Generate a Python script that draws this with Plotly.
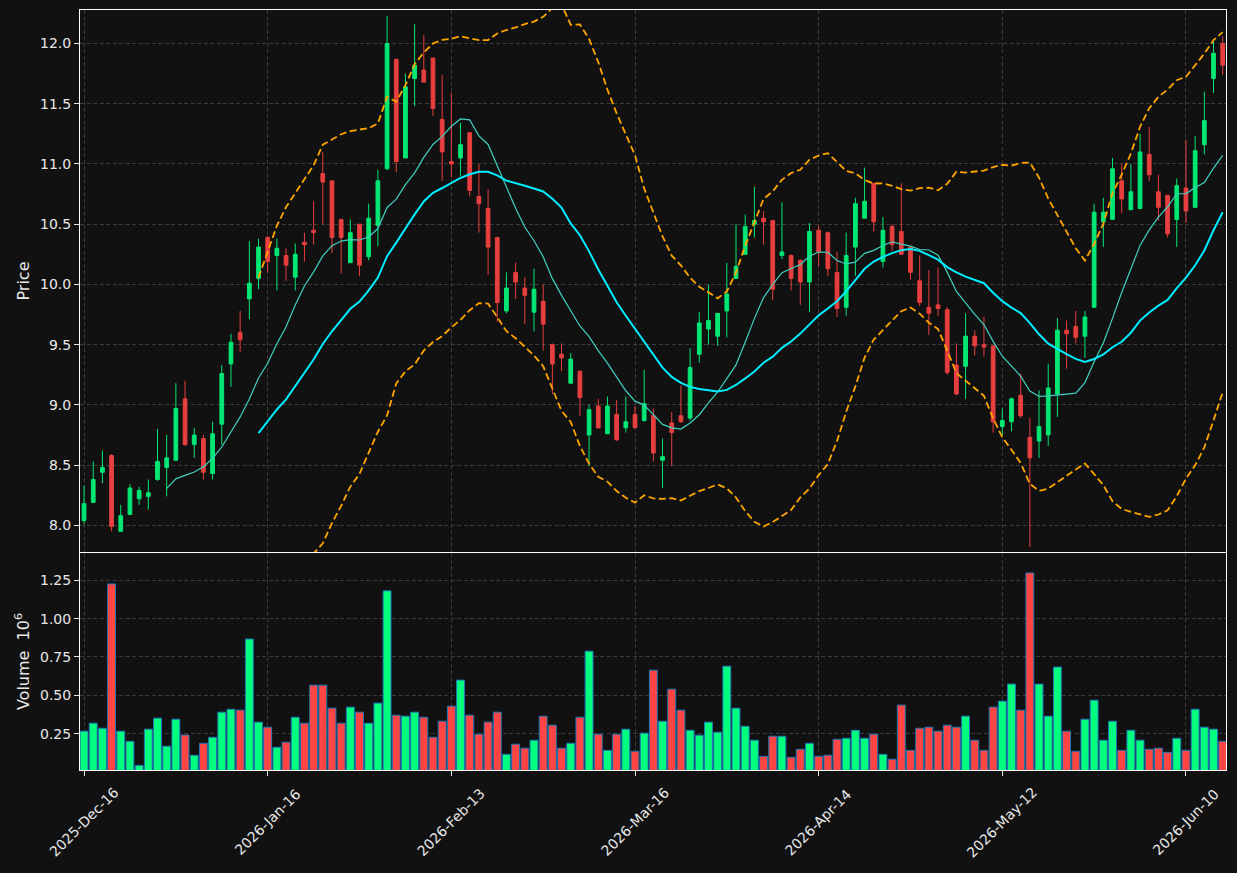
import pandas as pd
import plotly.graph_objects as go

# ---------------- data ----------------
opens = [8.04, 8.19, 8.44, 8.58, 7.95, 8.09, 8.22, 8.24, 8.38, 8.48,
         8.54, 9.05, 8.67, 8.72, 8.43, 8.84, 9.34, 9.60, 9.88, 10.05,
         10.39, 10.24, 10.24, 10.06, 10.35, 10.45, 10.92, 10.86, 10.54, 10.18,
         10.50, 10.23, 10.49, 10.96, 11.87, 11.05, 11.71, 11.78, 11.88, 11.37,
         11.02, 11.05, 11.26, 10.73, 10.63, 10.39, 9.78, 10.10, 9.97, 9.77,
         9.86, 9.50, 9.42, 9.18, 9.28, 8.75, 8.99, 8.76, 8.92, 8.81,
         8.92, 8.87, 8.91, 8.54, 8.85, 8.91, 8.89, 9.42, 9.63, 9.57,
         9.78, 10.05, 10.25, 10.50, 10.55, 10.53, 10.24, 10.24, 10.20, 10.02,
         10.45, 10.43, 10.10, 9.81, 10.31, 10.55, 10.84, 10.19, 10.48, 10.44,
         10.31, 10.03, 9.81, 9.83, 9.79, 9.33, 9.32, 9.57, 9.50, 9.49,
         8.82, 8.86, 9.08, 8.73, 8.70, 8.75, 9.09, 9.62, 9.65, 9.57,
         9.81, 10.52, 10.54, 10.86, 10.62, 10.63, 11.08, 10.77, 10.74, 10.54,
         10.80, 10.64, 11.16, 11.71, 12.00]
highs = [8.33, 8.53, 8.62, 8.59, 8.17, 8.34, 8.32, 8.38, 8.80, 8.75,
         9.18, 9.20, 8.81, 8.75, 8.86, 9.33, 9.59, 9.78, 10.36, 10.38,
         10.40, 10.38, 10.30, 10.34, 10.43, 10.69, 11.10, 10.86, 10.54, 10.54,
         10.50, 10.67, 10.95, 12.23, 11.87, 11.75, 12.16, 12.07, 11.88, 11.74,
         11.59, 11.34, 11.26, 11.00, 10.79, 10.39, 10.10, 10.18, 10.06, 10.13,
         10.00, 9.51, 9.51, 9.43, 9.28, 9.00, 9.05, 9.07, 9.04, 9.07,
         8.99, 9.29, 8.97, 8.72, 8.94, 9.16, 9.47, 9.77, 10.00, 9.76,
         10.18, 10.50, 10.58, 10.81, 10.61, 10.53, 10.68, 10.25, 10.21, 10.51,
         10.49, 10.44, 10.27, 10.43, 10.72, 10.97, 10.84, 10.56, 10.50, 10.84,
         10.31, 10.24, 10.12, 10.14, 9.81, 9.51, 9.76, 9.62, 9.73, 9.49,
         8.97, 9.06, 9.26, 8.89, 9.12, 9.34, 9.72, 9.70, 9.78, 9.78,
         10.67, 10.72, 11.05, 11.00, 11.00, 11.25, 11.31, 10.91, 10.74, 10.88,
         11.20, 11.23, 11.60, 12.03, 12.06]
lows = [8.01, 8.19, 8.35, 7.95, 7.95, 8.09, 8.17, 8.13, 8.37, 8.24,
        8.54, 8.66, 8.56, 8.38, 8.38, 8.67, 9.15, 9.44, 9.71, 9.96,
        10.10, 9.95, 10.03, 9.95, 10.19, 10.33, 10.50, 10.26, 10.09, 10.18,
        10.07, 10.20, 10.32, 10.95, 10.93, 11.05, 11.48, 11.68, 11.40, 10.86,
        10.89, 10.90, 10.73, 10.43, 10.08, 9.69, 9.76, 9.88, 9.67, 9.61,
        9.45, 9.09, 9.28, 9.18, 8.91, 8.49, 8.80, 8.76, 8.70, 8.77,
        8.81, 8.86, 8.53, 8.31, 8.49, 8.85, 8.87, 9.35, 9.50, 9.49,
        9.56, 10.05, 10.25, 10.39, 10.33, 9.87, 10.21, 9.95, 9.83, 9.77,
        10.15, 10.07, 9.73, 9.74, 10.07, 10.55, 10.44, 10.14, 10.28, 10.25,
        10.04, 9.82, 9.58, 9.74, 9.25, 9.08, 9.05, 9.41, 9.40, 8.77,
        8.75, 8.78, 8.89, 7.82, 8.56, 8.66, 8.90, 9.30, 9.51, 9.39,
        9.81, 10.31, 10.54, 10.59, 10.62, 10.63, 10.86, 10.53, 10.39, 10.31,
        10.51, 10.64, 11.08, 11.59, 11.74]
closes = [8.18, 8.38, 8.48, 7.99, 8.08, 8.31, 8.29, 8.27, 8.53, 8.56,
          8.97, 8.67, 8.75, 8.44, 8.76, 9.26, 9.52, 9.54, 10.01, 10.31,
          10.19, 10.30, 10.16, 10.25, 10.33, 10.43, 10.85, 10.39, 10.39, 10.43,
          10.16, 10.55, 10.86, 12.00, 11.02, 11.64, 11.82, 11.68, 11.46, 11.10,
          11.00, 11.16, 10.78, 10.67, 10.31, 9.85, 9.97, 10.02, 9.91, 9.96,
          9.67, 9.34, 9.39, 9.38, 9.06, 8.96, 8.81, 8.99, 8.71, 8.86,
          8.81, 9.01, 8.60, 8.57, 8.77, 8.86, 9.31, 9.68, 9.70, 9.76,
          9.92, 10.15, 10.48, 10.53, 10.52, 9.96, 10.27, 10.05, 10.02, 10.44,
          10.27, 10.13, 9.80, 10.24, 10.67, 10.69, 10.52, 10.45, 10.33, 10.25,
          10.10, 9.85, 9.76, 9.80, 9.27, 9.09, 9.57, 9.49, 9.48, 8.86,
          8.87, 9.05, 8.91, 8.56, 8.82, 9.14, 9.62, 9.59, 9.56, 9.73,
          10.60, 10.60, 10.96, 10.71, 10.77, 11.10, 10.91, 10.64, 10.42, 10.82,
          10.61, 11.11, 11.36, 11.92, 11.82]
volume_millions = [0.266, 0.318, 0.285, 1.226, 0.266, 0.200, 0.043, 0.279, 0.351, 0.168,
                   0.344, 0.241, 0.109, 0.187, 0.226, 0.390, 0.409, 0.403, 0.867, 0.325,
                   0.292, 0.161, 0.194, 0.357, 0.318, 0.566, 0.566, 0.416, 0.318, 0.423,
                   0.390, 0.318, 0.449, 1.181, 0.370, 0.364, 0.390, 0.357, 0.226, 0.331,
                   0.429, 0.599, 0.370, 0.246, 0.325, 0.390, 0.115, 0.181, 0.155, 0.207,
                   0.364, 0.305, 0.155, 0.187, 0.357, 0.788, 0.246, 0.141, 0.246, 0.279,
                   0.135, 0.253, 0.664, 0.331, 0.540, 0.403, 0.272, 0.240, 0.325, 0.259,
                   0.690, 0.416, 0.298, 0.207, 0.102, 0.233, 0.233, 0.096, 0.148, 0.187,
                   0.102, 0.109, 0.213, 0.220, 0.272, 0.220, 0.246, 0.115, 0.083, 0.436,
                   0.141, 0.285, 0.292, 0.266, 0.305, 0.292, 0.364, 0.207, 0.141, 0.423,
                   0.462, 0.573, 0.403, 1.298, 0.573, 0.364, 0.684, 0.266, 0.135, 0.344,
                   0.468, 0.207, 0.331, 0.141, 0.272, 0.207, 0.148, 0.155, 0.128, 0.220,
                   0.141, 0.409, 0.292, 0.279, 0.200]
tick_labels = ['2025-Dec-16', '2026-Jan-16', '2026-Feb-13', '2026-Mar-16',
               '2026-Apr-14', '2026-May-12', '2026-Jun-10']
TICK_STEP = 20  # candles between labelled dates

# ---------------- derived series ----------------
n = len(closes)
idx = list(range(n))
cs = pd.Series(closes)
mav10 = cs.rolling(10).mean()
mav20 = cs.rolling(20).mean()
std20 = cs.rolling(20).std()
bb_up = mav20 + 2 * std20
bb_lo = mav20 - 2 * std20

# ---------------- style ----------------
UP = '#00ff7f'
DOWN = '#ff4444'
BG = '#111111'
FG = '#e8e8e8'
GRID = '#3a3a3a'
FONT = 'DejaVu Sans'

vol_colors = [UP if c >= o else DOWN for o, c in zip(opens, closes)]

fig = go.Figure()
fig.add_trace(go.Candlestick(
    x=idx, open=opens, high=highs, low=lows, close=closes,
    increasing=dict(line=dict(color=UP, width=1), fillcolor=UP),
    decreasing=dict(line=dict(color=DOWN, width=1), fillcolor=DOWN),
    whiskerwidth=0, opacity=0.9, xaxis='x', yaxis='y', showlegend=False))
fig.add_trace(go.Scatter(x=idx, y=mav10, mode='lines',
                         line=dict(color='#40d0c0', width=1.2),
                         xaxis='x', yaxis='y', showlegend=False))
fig.add_trace(go.Scatter(x=idx, y=mav20, mode='lines',
                         line=dict(color='#00eeff', width=2),
                         xaxis='x', yaxis='y', showlegend=False))
for band in (bb_up, bb_lo):
    fig.add_trace(go.Scatter(x=idx, y=band, mode='lines',
                             line=dict(color='#ffa500', width=1.8, dash='7px,3.5px'),
                             xaxis='x', yaxis='y', showlegend=False))
fig.add_trace(go.Bar(x=idx, y=volume_millions, width=0.86,
                     marker=dict(color=vol_colors, line=dict(color='#1f77b4', width=1)),
                     xaxis='x2', yaxis='y2', showlegend=False))

xr = [-0.44, n - 1 + 0.36]
tickvals = [k * TICK_STEP for k in range(len(tick_labels))]
span = max(highs) - min(lows)
yr = [min(lows) - 0.0095 * span, max(highs) + 0.011 * span]
vr = [0.3 * min(volume_millions), 1.1 * max(volume_millions)]

axis_common = dict(showline=True, linecolor='white', linewidth=1, mirror=True,
                   zeroline=False, gridcolor=GRID, griddash='4px,2.5px', gridwidth=1,
                   tickfont=dict(family=FONT, size=14, color=FG),
                   tickcolor=FG, ticklen=5)

fig.update_layout(
    width=1237, height=873,
    margin=dict(l=80, r=11, t=10, b=103),
    paper_bgcolor=BG, plot_bgcolor=BG,
    font=dict(family=FONT, size=14, color=FG),
    boxgap=0.42,
    xaxis=dict(domain=[0, 1], anchor='y', range=xr, tickvals=tickvals,
               showticklabels=False, ticks='', showgrid=True,
               rangeslider=dict(visible=False), **axis_common),
    yaxis=dict(domain=[0.2868, 1], anchor='x', range=yr, tick0=8, dtick=0.5,
               tickformat='.1f', ticks='outside', showgrid=True,
               title=dict(text='Price', standoff=6,
                          font=dict(family=FONT, size=16, color=FG)),
               **axis_common),
    xaxis2=dict(domain=[0, 1], anchor='y2', range=xr, matches='x', tickvals=tickvals,
                showticklabels=False, ticks='outside', showgrid=True, **axis_common),
    yaxis2=dict(domain=[0, 0.2855], anchor='x2', range=vr,
                tickvals=[0.25, 0.5, 0.75, 1.0, 1.25], tickformat='.2f',
                ticks='outside', showgrid=True,
                title=dict(text='Volume  10<sup>6</sup>', standoff=6,
                           font=dict(family=FONT, size=16, color=FG)),
                **axis_common),
)

for k, lab in enumerate(tick_labels):
    fig.add_annotation(x=tickvals[k], xref='x2', y=-0.069, yref='paper',
                       text=lab, textangle=-45, showarrow=False,
                       xanchor='center', yanchor='middle',
                       font=dict(family=FONT, size=14, color=FG))

fig.write_html('out.html')
